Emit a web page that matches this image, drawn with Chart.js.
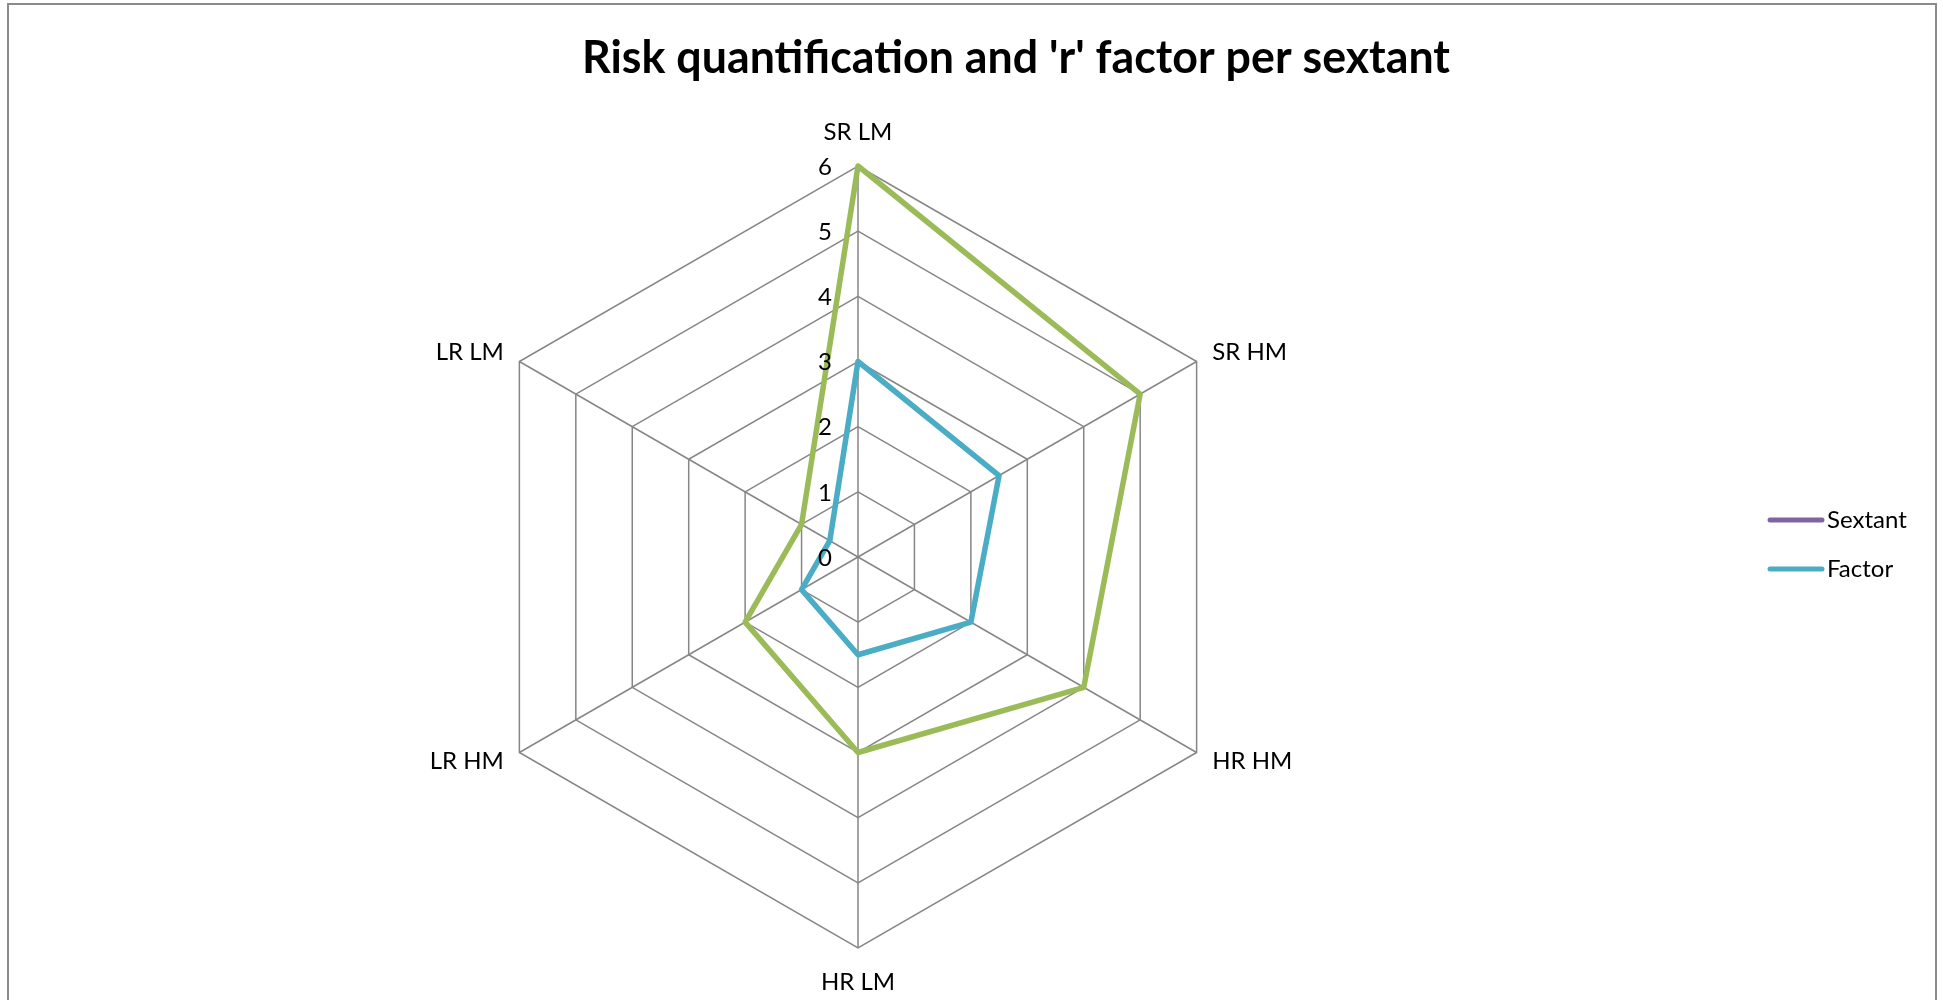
<!DOCTYPE html>
<html>
<head>
<meta charset="utf-8">
<title>Risk quantification and 'r' factor per sextant</title>
<script src="https://cdn.jsdelivr.net/npm/chart.js@4.4.1/dist/chart.umd.min.js"></script>
<style>
  html, body { margin: 0; padding: 0; background: #ffffff; overflow: hidden; }
  #frame {
    position: absolute; left: 7px; top: 3px;
    width: 1926px; height: 1100px;
    border: 2px solid #8a8a8a;
  }
  #chart { position: absolute; left: 0; top: 0; }
</style>
</head>
<body>
<div id="frame"></div>
<canvas id="chart" width="1943" height="1000"></canvas>
<script>
// Sextant categories, clockwise from the top
const categories = ['SR LM', 'SR HM', 'HR HM', 'HR LM', 'LR HM', 'LR LM'];
// Risk quantification per sextant
const riskValues = [6, 5, 4, 3, 2, 1];
// 'r' factor per sextant
const factorValues = [3, 2.5, 2, 1.5, 1, 0.5];
// The "Sextant" column holds names only, so it plots no points
const sextantValues = [null, null, null, null, null, null];
// Radial axis tick labels
const tickValues = [0, 1, 2, 3, 4, 5, 6];
// Legend entries, top to bottom
const legendOrder = ['Sextant', 'Factor'];

const titleText = "Risk quantification and 'r' factor per sextant";
const FONT = "Lato, 'DejaVu Sans', sans-serif";
const GRID = '#868686';

// Title, axis tick labels, category labels and legend drawn on the canvas
const decorations = {
  id: 'decorations',
  afterDraw(chart) {
    const ctx = chart.ctx;
    const scale = chart.scales.r;
    ctx.save();
    ctx.fillStyle = '#000000';

    // title
    ctx.font = "bold 45px " + FONT;
    ctx.textBaseline = 'middle';
    ctx.textAlign = 'center';
    const tw = ctx.measureText(titleText).width;
    const target = 868;
    const sx = target / tw;
    ctx.save();
    ctx.translate(1016, 58);
    ctx.scale(sx, 1);
    ctx.fillText(titleText, 0, 0);
    ctx.restore();

    // radial tick labels, left of the vertical axis
    ctx.font = "24px " + FONT;
    ctx.textAlign = 'right';
    ctx.textBaseline = 'middle';
    tickValues.forEach(v => {
      const p = scale.getPointPositionForValue(0, v);
      ctx.fillText(String(v), scale.xCenter - 26, p.y + 1);
    });

    // category labels around the web
    categories.forEach((label, i) => {
      const top = i === 0, bottom = i === 3;
      const dist = (top || bottom) ? scale.drawingArea + 34 : scale.drawingArea + 18;
      const p = scale.getPointPosition(i, dist);
      if (top || bottom) ctx.textAlign = 'center';
      else ctx.textAlign = p.x > scale.xCenter ? 'left' : 'right';
      ctx.textBaseline = 'middle';
      ctx.fillText(label, p.x, p.y);
    });

    // legend
    legendOrder.forEach((name, k) => {
      const d = chart.data.datasets.find(ds => ds.label === name);
      const y = 520 + k * 49;
      ctx.strokeStyle = d.borderColor;
      ctx.lineWidth = 5;
      ctx.lineCap = 'round';
      ctx.beginPath();
      ctx.moveTo(1770, y);
      ctx.lineTo(1822, y);
      ctx.stroke();
      ctx.fillStyle = '#000000';
      ctx.textAlign = 'left';
      ctx.textBaseline = 'middle';
      ctx.fillText(d.label, 1827, y);
    });
    ctx.restore();
  }
};

new Chart(document.getElementById('chart'), {
  type: 'radar',
  data: {
    labels: categories,
    datasets: [
      { label: 'Factor', data: factorValues, borderColor: '#4BACC6', order: 0 },
      { label: 'Sextant', data: sextantValues, borderColor: '#8064A2', order: 1 },
      { label: 'Risk', data: riskValues, borderColor: '#9BBB59', order: 2 }
    ].map(d => Object.assign({
      fill: false,
      borderWidth: 5.5,
      borderJoinStyle: 'round',
      tension: 0,
      pointRadius: 0,
      pointHoverRadius: 0,
      spanGaps: false
    }, d))
  },
  options: {
    responsive: false,
    animation: false,
    events: [],
    layout: { padding: { left: 467, right: 694, top: 166, bottom: 52 } },
    plugins: {
      legend: { display: false },
      title: { display: false },
      tooltip: { enabled: false }
    },
    scales: {
      r: {
        min: 0,
        max: 6,
        beginAtZero: true,
        ticks: { display: false, stepSize: 1 },
        pointLabels: { display: false },
        grid: { circular: false, color: GRID, lineWidth: 1.5 },
        angleLines: { display: true, color: GRID, lineWidth: 1.5 }
      }
    }
  },
  plugins: [decorations]
});
</script>
</body>
</html>
